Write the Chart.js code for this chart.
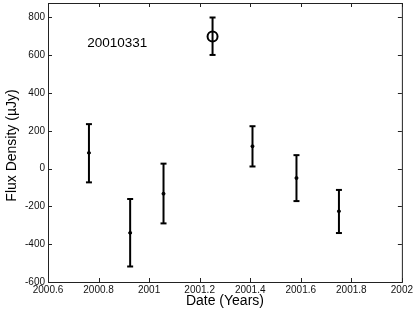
<!DOCTYPE html>
<html>
<head>
<meta charset="utf-8">
<script src="https://cdn.jsdelivr.net/npm/chart.js@4/dist/chart.umd.min.js"></script>
<style>
  body { margin: 0; background: #fff; }
</style>
</head>
<body>
<canvas id="myChart" width="415" height="312"></canvas>
<script>
const dates = [2000.762, 2000.925, 2001.057, 2001.251, 2001.409, 2001.583, 2001.751];
const flux = [83, -340, -133, 698, 118, -50, -226];
const fluxHigh = [235, -161, 26, 799, 224, 71, -113];
const fluxLow = [-73, -518, -290, 601, 11, -172, -341];
const circled = [false, false, false, true, false, false, false];
const xTicks = [2000.6, 2000.8, 2001, 2001.2, 2001.4, 2001.6, 2001.8, 2002];
const yTicks = [-600, -400, -200, 0, 200, 400, 600, 800];
const label = '20010331';

const fontFamily = '"Liberation Sans", Arial, Helvetica, sans-serif';
const ink = '#000';
// chart.js keeps ~6px for the top tick label, so the box top sits above the chart area
const yTop = 876;

// one small line dataset per error bar, caps drawn as 'line' points
const errorBars = dates.map((d, i) => ({
    type: 'line',
    data: [{x: d, y: fluxLow[i]}, {x: d, y: fluxHigh[i]}],
    borderColor: ink,
    borderWidth: 2,
    pointStyle: 'line',
    pointRadius: 3,
    pointBorderWidth: 2,
    pointBorderColor: ink,
    fill: false
}));

const centres = {
    type: 'scatter',
    data: dates.map((d, i) => ({x: d, y: flux[i]})),
    pointStyle: 'circle',
    pointRadius: circled.map(c => c ? 5 : 1.5),
    pointBorderWidth: circled.map(c => c ? 2 : 1),
    pointBorderColor: ink,
    pointBackgroundColor: circled.map(c => c ? 'rgba(0,0,0,0)' : ink)
};

// box round the plot with inward ticks on all four sides, plus the date label
const framePlugin = {
    id: 'frame',
    afterDatasetsDraw(chart) {
        const {ctx, chartArea: a, scales: {x, y}} = chart;
        const top = Math.round(y.getPixelForValue(yTop));
        ctx.save();
        ctx.strokeStyle = '#222';
        ctx.lineWidth = 1;
        ctx.strokeRect(a.left + 0.5, top + 0.5, a.right - a.left, a.bottom - top);
        ctx.beginPath();
        const len = 4;
        xTicks.forEach(v => {
            const px = Math.round(x.getPixelForValue(v)) + 0.5;
            ctx.moveTo(px, a.bottom); ctx.lineTo(px, a.bottom - len);
            ctx.moveTo(px, top); ctx.lineTo(px, top + len);
        });
        yTicks.forEach(v => {
            const py = Math.round(y.getPixelForValue(v)) + 0.5;
            ctx.moveTo(a.left, py); ctx.lineTo(a.left + len, py);
            ctx.moveTo(a.right, py); ctx.lineTo(a.right - len, py);
        });
        ctx.stroke();

        ctx.fillStyle = ink;
        ctx.font = '13.5px ' + fontFamily;
        ctx.textAlign = 'left';
        ctx.textBaseline = 'middle';
        ctx.fillText(label, x.getPixelForValue(2000.755), y.getPixelForValue(665));
        ctx.restore();
    }
};

const ctx = document.getElementById('myChart').getContext('2d');

new Chart(ctx, {
    data: {
        datasets: [...errorBars, centres]
    },
    options: {
        responsive: false,
        maintainAspectRatio: false,
        animation: false,
        layout: {
            autoPadding: false,
            padding: {top: 3, right: 13, left: 0, bottom: 0}
        },
        scales: {
            x: {
                type: 'linear',
                min: 2000.6,
                max: 2002,
                afterBuildTicks: s => { s.ticks = xTicks.map(v => ({value: v})); },
                afterFit: s => { s.height = 30; },
                grid: {display: false, drawTicks: false},
                border: {display: false},
                ticks: {
                    padding: 2,
                    color: '#111',
                    font: {family: fontFamily, size: 10},
                    autoSkip: false,
                    maxRotation: 0,
                    callback: v => String(Number(v.toFixed(1)))
                },
                title: {
                    display: true,
                    text: 'Date (Years)',
                    color: ink,
                    font: {family: fontFamily, size: 14},
                    padding: {top: 0, bottom: 2}
                }
            },
            y: {
                type: 'linear',
                min: -600,
                max: 844,
                afterBuildTicks: s => { s.ticks = yTicks.map(v => ({value: v})); },
                afterFit: s => { s.width = 48; },
                grid: {display: false, drawTicks: false},
                border: {display: false},
                ticks: {
                    padding: 3,
                    color: '#111',
                    font: {family: fontFamily, size: 10}
                },
                title: {
                    display: true,
                    text: 'Flux Density (µJy)',
                    color: ink,
                    font: {family: fontFamily, size: 14},
                    padding: {top: 4, bottom: 0}
                }
            }
        },
        plugins: {
            legend: {display: false},
            tooltip: {enabled: false}
        }
    },
    plugins: [framePlugin]
});
</script>
</body>
</html>
